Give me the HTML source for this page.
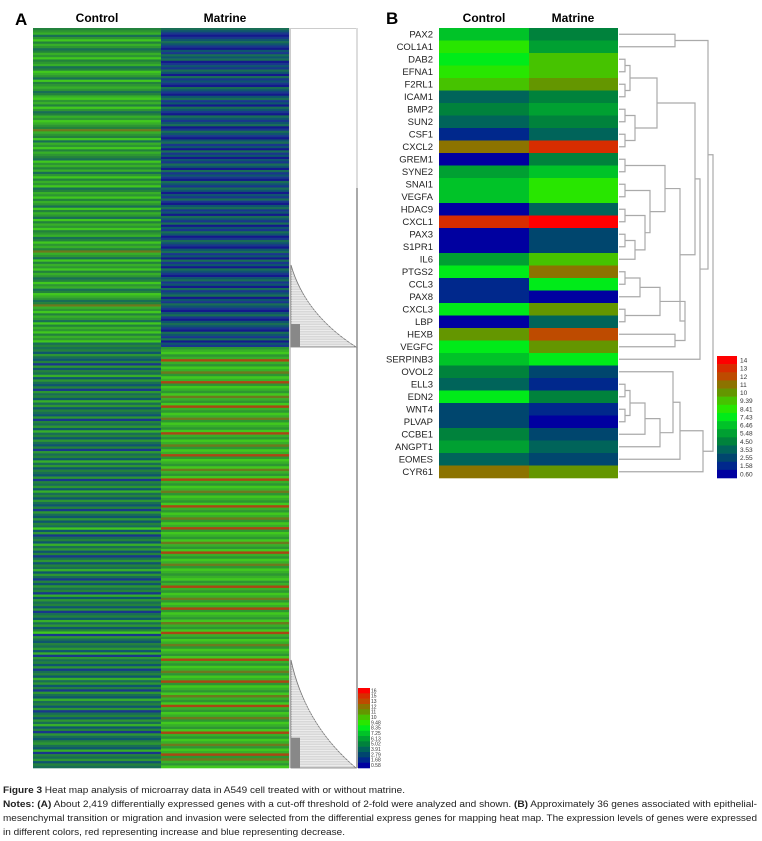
<!DOCTYPE html>
<html><head><meta charset="utf-8"><style>
body{margin:0;background:#fff;width:762px;height:841px;overflow:hidden}
svg{display:block}
text{font-family:"Liberation Sans",sans-serif}
</style></head><body>
<svg id="fig" width="762" height="841" viewBox="0 0 762 841" xmlns="http://www.w3.org/2000/svg">
<g id="panelA"></g>
<g id="panelB"></g>
<g font-size="9.6" fill="#222">
<text x="3" y="793" textLength="402" lengthAdjust="spacingAndGlyphs"><tspan font-weight="bold">Figure 3</tspan> Heat map analysis of microarray data in A549 cell treated with or without matrine.</text>
<text x="3" y="807" textLength="754" lengthAdjust="spacingAndGlyphs"><tspan font-weight="bold">Notes: (A)</tspan> About 2,419 differentially expressed genes with a cut-off threshold of 2-fold were analyzed and shown. <tspan font-weight="bold">(B)</tspan> Approximately 36 genes associated with epithelial-</text>
<text x="3" y="821" textLength="754" lengthAdjust="spacingAndGlyphs">mesenchymal transition or migration and invasion were selected from the differential express genes for mapping heat map. The expression levels of genes were expressed</text>
<text x="3" y="835" textLength="342" lengthAdjust="spacingAndGlyphs">in different colors, red representing increase and blue representing decrease.</text>
</g>
</svg>
<script>
const genesB = ["PAX2","COL1A1","DAB2","EFNA1","F2RL1","ICAM1","BMP2","SUN2","CSF1","CXCL2","GREM1","SYNE2","SNAI1","VEGFA","HDAC9","CXCL1","PAX3","S1PR1","IL6","PTGS2","CCL3","PAX8","CXCL3","LBP","HEXB","VEGFC","SERPINB3","OVOL2","ELL3","EDN2","WNT4","PLVAP","CCBE1","ANGPT1","EOMES","CYR61"];
const controlB = [6,8,7.5,8,9,3.5,4.5,3.5,1.2,11,1,5.5,6.5,6.5,0.6,13,0.6,0.6,5.5,7.5,1.2,1.2,7,0.6,10,7,6,4.5,3.5,7,2.5,2.5,4.5,5.5,3.5,11];
const matrineB = [4.5,5.5,9,9,10.5,4.5,5.5,4.5,3.5,13,4.5,6.5,8,8,3.5,14,2.5,2.5,9,11,7,1,10,3.5,12,10,7.5,2.5,1.2,4.5,1.2,0.6,2.5,3.5,2.5,10];
const legendBLabels = ["14","13","12","11","10","9.39","8.41","7.43","6.46","5.48","4.50","3.53","2.55","1.58","0.60"];
const legendALabels = ["16","15","13","12","11","10","9.48","8.35","7.25","6.13","5.02","3.91","2.79","1.68","0.58"];
const controlATop = "4563574653465745634765374565346756475346576548654736574654375646357465734657465374653746574563475648653746574653475634765348657465374657465734";
const controlABot = "34253241524362532415342635243251435263425324153426352432514352634253241532524372513426352413524362531425341625342513426352471532435261534251342635241532634251342536241532453261435243";
const matrineATop = "32101232102132301213203121032102312032103212301321023120312021320312103213202131023120321302132013210231203120321023120312302132102310232103213021";
const matrineABot = "56756965768576957657865796576857657965768576957657865796576857657965768576957657865796576857656756965768576957657865796576857657965768576957657865796576857657965768576958657";
const legB = [14,13,12,11,10,9.39,8.41,7.43,6.46,5.48,4.50,3.53,2.55,1.58,0.60];
const palB = [[0,0,160],[0,40,140],[0,70,110],[0,100,90],[0,130,60],[0,160,50],[0,195,40],[0,235,25],[40,230,0],[70,195,0],[100,150,0],[140,115,0],[190,75,0],[215,45,0],[255,0,0]];
const palA = [[20,25,140],[25,55,140],[15,85,110],[25,110,85],[35,130,60],[45,150,50],[55,175,40],[65,200,30],[110,120,30],[170,70,20]];

const NS="http://www.w3.org/2000/svg";
function mk(tag,attrs,parent){const e=document.createElementNS(NS,tag);for(const k in attrs)e.setAttribute(k,attrs[k]);parent.appendChild(e);return e;}
function rgb(c){return "rgb("+c[0]+","+c[1]+","+c[2]+")";}
function colorB(v){let f=(v-0.6)/(14-0.6);f=Math.max(0,Math.min(1,f));return rgb(palB[Math.round(f*(palB.length-1))]);}

// ---------- Panel A ----------
const gA=document.getElementById('panelA');
let tt=mk('text',{x:15,y:25,'font-size':17,'font-weight':'bold'},gA);tt.textContent='A';


tt=mk('text',{x:97,y:22,'font-size':12,'font-weight':'bold','text-anchor':'middle'},gA);tt.textContent='Control';


tt=mk('text',{x:225,y:22,'font-size':12,'font-weight':'bold','text-anchor':'middle'},gA);tt.textContent='Matrine';


const aTop=28,aMid=347,aBot=768,aX=[33,161,289];
function colA(str,x0,x1,y0,y1,name){const h=(y1-y0)/str.length;for(let i=0;i<str.length;i++){const r=mk('rect',{x:x0,y:y0+i*h,width:x1-x0,height:h+0.3,fill:rgb(palA[+str[i]])},gA);

}}
colA(controlATop,aX[0],aX[1],aTop,aMid,'a-control-cell');
colA(controlABot,aX[0],aX[1],aMid,aBot,'a-control-cell');
colA(matrineATop,aX[1],aX[2],aTop,aMid,'a-matrine-cell');
colA(matrineABot,aX[1],aX[2],aMid,aBot,'a-matrine-cell');
let ln=mk('line',{x1:290,y1:28,x2:290,y2:768,stroke:'#bbb','stroke-width':1.5},gA);


ln=mk('line',{x1:290,y1:28.5,x2:357,y2:28.5,stroke:'#ccc','stroke-width':1},gA);


ln=mk('line',{x1:357,y1:28,x2:357,y2:188,stroke:'#ddd','stroke-width':2},gA);


ln=mk('line',{x1:357,y1:188,x2:357,y2:768,stroke:'#aaa','stroke-width':2},gA);


function tri(y0,y1,name){const g=mk('g',{},gA);
 
 
 mk('path',{d:"M291 "+y0+" Q305 "+(y0+(y1-y0)*0.6)+" 356 "+y1+" L291 "+y1+" Z",fill:'#d8d8d8',stroke:'#777','stroke-width':0.8},g);
 for(let y=y0+3;y<y1;y+=2.5){mk('line',{x1:291,y1:y,x2:291+65*Math.pow((y-y0)/(y1-y0),1.6),y2:y,stroke:'#fff','stroke-width':0.5},g);}
 mk('rect',{x:291,y:y1-(y1-y0)*0.28,width:9,height:(y1-y0)*0.28,fill:'#888'},g);}
tri(265,347,'a-subtree-1');
tri(660,768,'a-subtree-2');
const lhA=80/legendALabels.length;
for(let i=0;i<legendALabels.length;i++){
 const r=mk('rect',{x:358,y:688+i*lhA,width:12,height:lhA+0.3,fill:colorB(14-i*(13.4/(legendALabels.length-1)))},gA);
 
 
 const tx=mk('text',{x:371,y:688+i*lhA+lhA*0.8,'font-size':5,fill:'#333'},gA);tx.textContent=legendALabels[i];
 
 }

// ---------- Panel B ----------
const gB=document.getElementById('panelB');
tt=mk('text',{x:386,y:24,'font-size':17,'font-weight':'bold'},gB);tt.textContent='B';


tt=mk('text',{x:484,y:22,'font-size':12,'font-weight':'bold','text-anchor':'middle'},gB);tt.textContent='Control';


tt=mk('text',{x:573,y:22,'font-size':12,'font-weight':'bold','text-anchor':'middle'},gB);tt.textContent='Matrine';


const bTop=28,rowH=12.5,bX=[439,529,618];
function yRow(i){return bTop+i*rowH;}
for(let i=0;i<genesB.length;i++){
 let r=mk('rect',{x:bX[0],y:yRow(i),width:bX[1]-bX[0],height:rowH+0.3,fill:colorB(controlB[i])},gB);
 
 
 r=mk('rect',{x:bX[1],y:yRow(i),width:bX[2]-bX[1],height:rowH+0.3,fill:colorB(matrineB[i])},gB);
 
 
 const tx=mk('text',{x:433,y:yRow(i)+rowH*0.75,'font-size':9.5,'text-anchor':'end',fill:'#222'},gB);tx.textContent=genesB[i];
 
 }
const n01=[0,1,675];
const nG=[[[2,3,625],[4,5,625],630],[[6,7,625],[8,9,625],635],657];
const nO=[[10,11,625],[[12,13,625],[[14,15,625],[[16,17,625],18,635],645],650],665];
const nU=[[[[19,20,625],21,640],[22,23,625],660],[24,25,675],685];
const nV=[nO,nU,680];
const nW=[nG,nV,695];
const nX=[nW,26,700];
const nTop=[n01,nX,708];
const nCC=[[[[28,29,625],[30,31,625],630],32,645],33,660];
const nDD=[27,nCC,673];
const nEE=[nDD,34,680];
const nFF=[nEE,35,703];
const nRoot=[nTop,nFF,713];
function draw(n){if(typeof n==='number')return{y:yRow(n)+rowH/2,x:619};
 const a=draw(n[0]),b=draw(n[1]),x=n[2];
 const p=mk('path',{d:"M"+a.x+" "+a.y+"H"+x+"V"+b.y+"H"+b.x,fill:'none',stroke:'#aaa','stroke-width':1.2},gB);
 
 
 return{y:(a.y+b.y)/2,x:x};}
draw(nRoot);
const lhB=122/legB.length;
for(let i=0;i<legB.length;i++){
 const r=mk('rect',{x:717,y:356+i*lhB,width:20,height:lhB+0.3,fill:colorB(legB[i])},gB);
 
 
 const tx=mk('text',{x:740,y:356+i*lhB+lhB*0.8,'font-size':6.5,fill:'#333'},gB);tx.textContent=legendBLabels[i];
 
 }
</script>
</body></html>
